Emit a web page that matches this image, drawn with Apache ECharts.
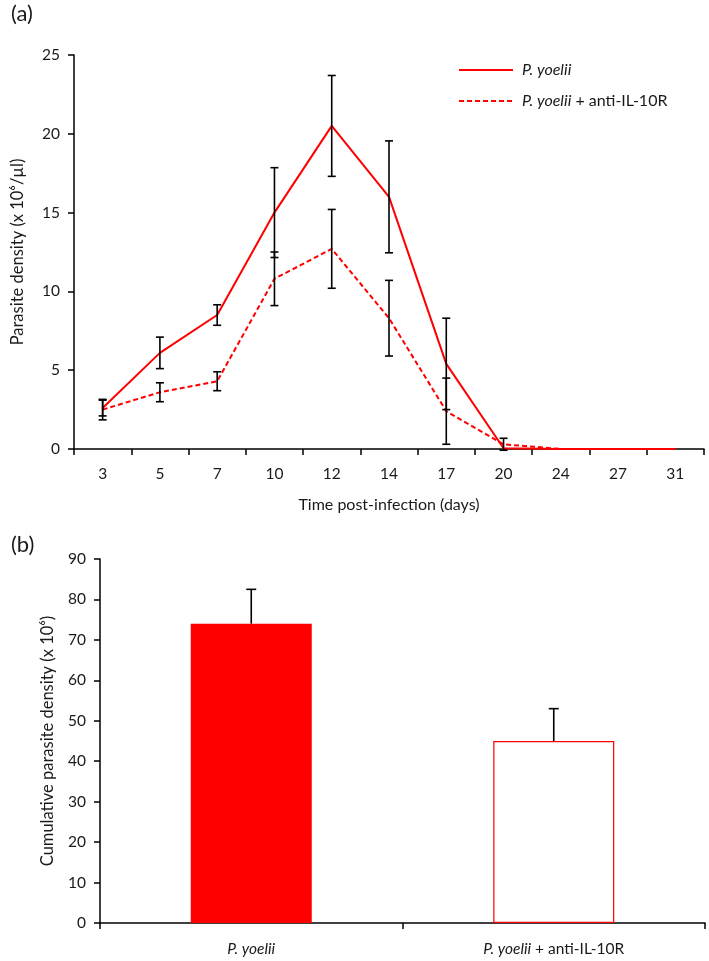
<!DOCTYPE html>
<html>
<head>
<meta charset="utf-8">
<script src="https://cdn.jsdelivr.net/npm/echarts@6/dist/echarts.min.js"></script>
<style>
html,body{margin:0;padding:0;background:#fff;}
#main{width:709px;height:961px;}
</style>
</head>
<body>
<div id="main"></div>
<script>
// Panel (a): parasite density over time
var days = ['3','5','7','10','12','14','17','20','24','27','31'];
var pyMean   = [2.6, 6.1, 8.5, 15.0, 20.5, 16.0, 5.4, 0.05, 0, 0, 0];
var pyErr    = [0.5, 1.0, 0.65, 2.85, 3.2, 3.55, 2.9, 0, 0, 0, 0];
var antiMean = [2.5, 3.6, 4.3, 10.8, 12.7, 8.3, 2.4, 0.3, 0, 0, 0];
var antiErr  = [0.65, 0.6, 0.6, 1.7, 2.5, 2.4, 2.1, 0.38, 0, 0, 0];
var yTicksA = [0, 5, 10, 15, 20, 25];

// Panel (b): cumulative parasite density
var groups  = ['P. yoelii', 'P. yoelii + anti-IL-10R'];
var cumMean = [74, 45];
var cumErr  = [8.5, 8];
var yTicksB = [0, 10, 20, 30, 40, 50, 60, 70, 80, 90];

var FONT = 'Lato, "Open Sans", sans-serif';
var RED = '#ff0000';
var TXT = '#1a1a1a';
var FS = 15.5;

function errRender(means, errs, upOnly, capHalf) {
  return function (params, api) {
    var i = api.value(0);
    var m = means[i], e = errs[i];
    if (!e) return null;
    var lo = api.coord([i, upOnly ? m : m - e]);
    var hi = api.coord([i, m + e]);
    var st = {stroke: '#000', lineWidth: 1.6};
    var ch = [
      {type: 'line', shape: {x1: hi[0], y1: hi[1], x2: lo[0], y2: lo[1]}, style: st},
      {type: 'line', shape: {x1: hi[0] - capHalf, y1: hi[1], x2: hi[0] + capHalf, y2: hi[1]}, style: st}
    ];
    if (!upOnly) ch.push({type: 'line', shape: {x1: lo[0] - capHalf, y1: lo[1], x2: lo[0] + capHalf, y2: lo[1]}, style: st});
    return {type: 'group', children: ch};
  };
}

function richLabel(s) {
  return s.replace('P. yoelii', '{i|P. yoelii}');
}

var axisLineStyle = {color: '#000', width: 1.5};

var chart = echarts.init(document.getElementById('main'), null, {renderer: 'canvas'});
chart.setOption({
  backgroundColor: '#fff',
  animation: false,
  textStyle: {fontFamily: FONT},
  grid: [
    {left: 74, top: 55, width: 630, height: 394},
    {left: 100, top: 559, width: 605, height: 364}
  ],
  xAxis: [
    {
      type: 'category', gridIndex: 0, data: days, boundaryGap: true,
      axisLine: {lineStyle: axisLineStyle},
      axisTick: {show: true, length: 6, lineStyle: {color: '#000', width: 1.5}},
      axisLabel: {color: TXT, fontSize: FS, fontFamily: FONT, margin: 17},
      splitLine: {show: false},
      name: 'Time post-infection (days)', nameLocation: 'middle', nameGap: 48,
      nameTextStyle: {color: TXT, fontSize: 16, fontFamily: FONT}
    },
    {
      type: 'category', gridIndex: 1, data: groups, boundaryGap: true,
      axisLine: {lineStyle: axisLineStyle},
      axisTick: {show: true, length: 6, lineStyle: {color: '#000', width: 1.5}},
      axisLabel: {
        color: TXT, fontSize: FS, fontFamily: FONT, margin: 18,
        formatter: function (v) { return richLabel(v); },
        rich: {i: {fontStyle: 'italic', fontSize: FS, fontFamily: FONT, color: TXT}}
      },
      splitLine: {show: false}
    }
  ],
  yAxis: [
    {
      type: 'value', gridIndex: 0, min: yTicksA[0], max: yTicksA[yTicksA.length - 1], interval: 5,
      axisLine: {show: true, lineStyle: axisLineStyle},
      axisTick: {show: true, length: 6, lineStyle: {color: '#000', width: 1.5}},
      axisLabel: {color: TXT, fontSize: FS, fontFamily: FONT, margin: 14},
      splitLine: {show: false},
      name: 'Parasite density (x 10\u2076/\u00b5l)', nameLocation: 'middle', nameGap: 48, nameRotate: 90,
      nameTextStyle: {color: TXT, fontSize: 16.5, fontFamily: FONT}
    },
    {
      type: 'value', gridIndex: 1, min: yTicksB[0], max: yTicksB[yTicksB.length - 1], interval: 10,
      axisLine: {show: true, lineStyle: axisLineStyle},
      axisTick: {show: true, length: 6, lineStyle: {color: '#000', width: 1.5}},
      axisLabel: {color: TXT, fontSize: FS, fontFamily: FONT, margin: 14},
      splitLine: {show: false},
      name: 'Cumulative parasite density (x 10\u2076)', nameLocation: 'middle', nameGap: 44, nameRotate: 90,
      nameTextStyle: {color: TXT, fontSize: 16.5, fontFamily: FONT}
    }
  ],
  series: [
    {
      name: 'P. yoelii', type: 'line', xAxisIndex: 0, yAxisIndex: 0, data: pyMean,
      symbol: 'none', lineStyle: {color: RED, width: 2}, itemStyle: {color: RED}, z: 3
    },
    {
      name: 'P. yoelii + anti-IL-10R', type: 'line', xAxisIndex: 0, yAxisIndex: 0, data: antiMean,
      symbol: 'none', lineStyle: {color: RED, width: 2, type: [5, 3]}, itemStyle: {color: RED}, z: 3
    },
    {
      type: 'custom', xAxisIndex: 0, yAxisIndex: 0, z: 4,
      data: days.map(function (d, i) { return [i, pyMean[i]]; }),
      renderItem: errRender(pyMean, pyErr, false, 4)
    },
    {
      type: 'custom', xAxisIndex: 0, yAxisIndex: 0, z: 4,
      data: days.map(function (d, i) { return [i, antiMean[i]]; }),
      renderItem: errRender(antiMean, antiErr, false, 4)
    },
    {
      type: 'bar', xAxisIndex: 1, yAxisIndex: 1, barWidth: '40%',
      data: cumMean.map(function (v, i) {
        return {value: v, itemStyle: i === 0 ? {color: RED} : {color: '#fff', borderColor: RED, borderWidth: 1.2}};
      })
    },
    {
      type: 'custom', xAxisIndex: 1, yAxisIndex: 1, z: 4,
      data: groups.map(function (g, i) { return [i, cumMean[i]]; }),
      renderItem: errRender(cumMean, cumErr, true, 5)
    }
  ],
  graphic: [
    {type: 'text', left: 11, top: 3, style: {text: '(a)', font: '22px ' + FONT, fill: TXT}},
    {type: 'text', left: 11, top: 534, style: {text: '(b)', font: '22px ' + FONT, fill: TXT}},
    {type: 'line', shape: {x1: 459, y1: 70, x2: 513, y2: 70}, style: {stroke: RED, lineWidth: 2}},
    {type: 'line', shape: {x1: 459, y1: 101, x2: 513, y2: 101}, style: {stroke: RED, lineWidth: 2, lineDash: [5, 3]}},
    {type: 'text', x: 522, y: 70, style: {text: '{i|P. yoelii}', verticalAlign: 'middle', font: '16px ' + FONT, fill: TXT,
      rich: {i: {fontStyle: 'italic', fontSize: 16, fontFamily: FONT, fill: TXT}}}},
    {type: 'text', x: 522, y: 101, style: {text: '{i|P. yoelii} + anti-IL-10R', verticalAlign: 'middle', font: '16px ' + FONT, fill: TXT,
      rich: {i: {fontStyle: 'italic', fontSize: 16, fontFamily: FONT, fill: TXT}}}}
  ]
});
</script>
</body>
</html>
